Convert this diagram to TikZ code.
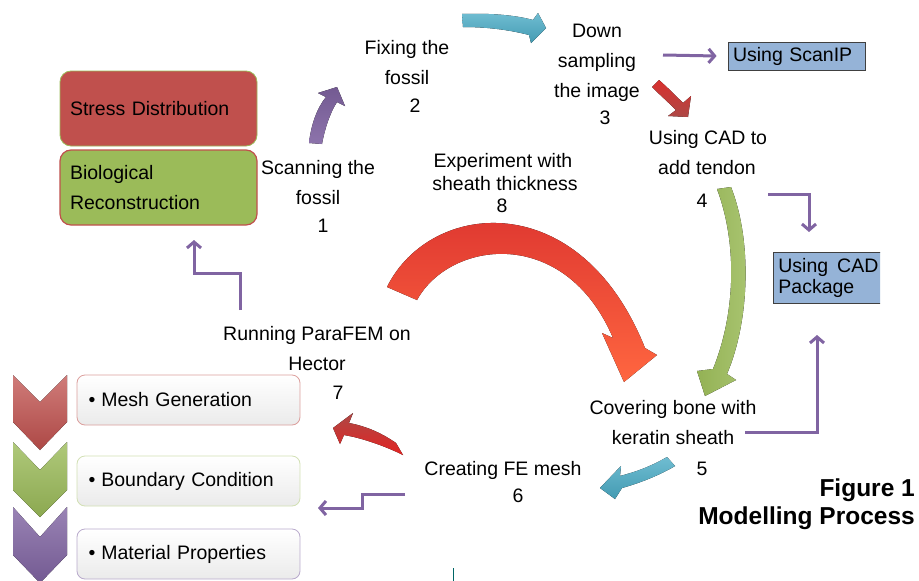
\documentclass[tikz,border=0pt]{standalone}
\usepackage{fontspec}
\setmainfont{Liberation Sans}
\usetikzlibrary{arrows.meta}
\definecolor{pur}{HTML}{8064A2}
\definecolor{redA}{HTML}{C0504D}
\definecolor{grnA}{HTML}{9BBB59}
\definecolor{bluA}{HTML}{95B3D7}
\definecolor{cyA}{HTML}{4BACC6}
\begin{document}
\begin{tikzpicture}[x=1pt,y=-1pt,
  lbl/.style={anchor=base, inner sep=0pt, font=\fontsize{19.5}{24}\selectfont},
  figt/.style={anchor=base east, inner sep=0pt, font=\fontsize{24.5}{28}\selectfont\bfseries},
  conn/.style={draw=pur, line width=3pt, -{Straight Barb[length=6pt,width=14pt]}},
  rbox/.style={rounded corners=11pt, minimum width=197pt, minimum height=75pt, inner xsep=10pt,
     text width=177pt, align=left, font=\fontsize{19.5}{30}\selectfont},
  sqbox/.style={draw=black!75, line width=0.8pt, fill=bluA, inner sep=0pt, align=left,
     font=\fontsize{19.5}{21}\selectfont},
  bbox/.style={rounded corners=8pt, minimum width=223pt, minimum height=50pt, line width=0.8pt,
     top color=white, bottom color=black!8, text width=200pt, inner xsep=11pt, align=left,
     font=\fontsize{19.5}{24}\selectfont}
]
\useasboundingbox (0,0) rectangle (919,581);
\fill[white] (0,0) rectangle (919,581);

% left boxes
\node[rbox, fill=redA, draw=grnA, line width=0.8pt] (stress) at (158.5,108.5) {Stress Distribution};
\node[rbox, fill=grnA, draw=redA, line width=1.2pt] (bio) at (158.5,187.5) {Biological\\Reconstruction};

% blue boxes
\node[sqbox, minimum width=137pt, minimum height=28pt, text width=127pt, inner xsep=5pt] (scanip) at (796.5,56) {Using ScanIP};
\begin{scope}
\clip (0,0) rectangle (880,581);
\node[sqbox, minimum width=125pt, minimum height=51pt, text width=115pt, inner xsep=5pt, anchor=west] (cad) at (773,277.5) {Using\hspace{9pt}CAD\\Package};
\end{scope}

% chevrons
\fill[top color=redA!75!white, bottom color=redA!90!black] (13,375) -- (40,402) -- (67,375) -- (67,422) -- (40,450) -- (13,422) -- cycle;
\fill[top color=grnA!80!white, bottom color=grnA!90!black] (13,442) -- (40,470) -- (67,442) -- (67,490) -- (40,517) -- (13,490) -- cycle;
\fill[top color=pur!80!white, bottom color=pur!90!black] (13,507) -- (40,537) -- (67,507) -- (67,555) -- (40,583) -- (13,555) -- cycle;

% bullet boxes
\node[bbox, draw=redA!55!white] (mesh) at (188.5,400) {\textbullet\hspace{6pt}Mesh Generation};
\node[bbox, draw=grnA!45!white] (bound) at (188.5,481) {\textbullet\hspace{6pt}Boundary Condition};
\node[bbox, draw=pur!55!white] (mat) at (188.5,554) {\textbullet\hspace{6pt}Material Properties};

% labels
\node[lbl] (l1a) at (318,174) {Scanning the};
\node[lbl] (l1b) at (318,204) {fossil};
\node[lbl] (l1c) at (323,232) {1};
\node[lbl] (l2a) at (407,54) {Fixing the};
\node[lbl] (l2b) at (407,84) {fossil};
\node[lbl] (l2c) at (415,112) {2};
\node[lbl] (l3a) at (597,37) {Down};
\node[lbl] (l3b) at (597,67) {sampling};
\node[lbl] (l3c) at (597,97) {the image};
\node[lbl] (l3d) at (605,124) {3};
\node[lbl] (l4a) at (708,144) {Using CAD to};
\node[lbl] (l4b) at (707,174) {add tendon};
\node[lbl] (l4c) at (702,207) {4};
\node[lbl] (l5a) at (673,414) {Covering bone with};
\node[lbl] (l5b) at (673,444) {keratin sheath};
\node[lbl] (l5c) at (702,475) {5};
\node[lbl] (l6a) at (503,475) {Creating FE mesh};
\node[lbl] (l6b) at (518,502) {6};
\node[lbl] (l7a) at (317,340) {Running ParaFEM on};
\node[lbl] (l7b) at (317,370) {Hector};
\node[lbl] (l7c) at (338,399) {7};
\node[lbl] (l8a) at (503,167) {Experiment with};
\node[lbl] (l8b) at (505,190) {sheath thickness};
\node[lbl] (l8c) at (502,212) {8};
\node[figt] (fig1) at (915,496) {Figure 1};
\node[figt] (fig2) at (915,524) {Modelling Process};

% block arrows
\fill[top color=pur!90!black, bottom color=pur!90!white]
  (309,143) .. controls (311,125) and (317,108) .. (326,97) -- (318,93) -- (337,87) -- (345,106) -- (337,102)
  .. controls (330,113) and (325,128) .. (322,144) -- cycle;
\fill[top color=cyA!80!white, bottom color=cyA!90!black]
  (462,14) .. controls (490,13) and (515,15) .. (533,20) -- (538,13) -- (546,28) -- (531,43) -- (529,35)
  .. controls (510,30) and (488,27) .. (463,27) -- cycle;
\fill[top color=red!40!redA, bottom color=redA!90!black]
  (652,87) -- (659,80) .. controls (667,87) and (675,95) .. (683,103) -- (691,96) -- (688,117) -- (668,116) -- (676,110)
  .. controls (668,102) and (660,95) .. (652,87) -- cycle;
\fill[left color=grnA!95!black, right color=grnA!85!white]
  (717,189) -- (731,187) .. controls (752,240) and (750,320) .. (727,374) -- (736,380) -- (705,396) -- (697,371) -- (713,369)
  .. controls (735,315) and (738,245) .. (717,189) -- cycle;
\fill[top color=cyA!80!white, bottom color=cyA!90!black]
  (667,457) .. controls (650,467) and (635,472) .. (620,476) -- (621,466) -- (600,488) -- (615,499) -- (622,488)
  .. controls (640,483) and (660,475) .. (675,466) -- cycle;
\fill[top color=redA!90!black, bottom color=red!55!redA]
  (396,443) .. controls (380,432) and (365,426) .. (349,423) -- (353,413) -- (333,428) -- (340,444) -- (344,435)
  .. controls (362,438) and (385,446) .. (403,455) -- cycle;
\fill[top color=red!40!redA, bottom color=orange!40!red!75!white]
  (387,287) .. controls (430,200) and (580,185) .. (645,348) -- (657,355) -- (624,382) -- (602,333) -- (613,338)
  .. controls (565,225) and (450,240) .. (417,300) -- cycle;

% purple connectors
\coordinate (c1s) at (663,55);
\draw[conn] (c1s) -- ([xshift=-11pt]scanip.west);
\coordinate (c2s) at (768,194);
\coordinate (c2e) at (809,232);
\draw[conn] (c2s) -| (c2e);
\coordinate (c3s) at (745,432);
\coordinate (c3e) at (817,335);
\draw[conn] (c3s) -| (c3e);
\coordinate (c4s) at (240,310);
\coordinate (c4m) at (217,273);
\coordinate (c4e) at (194,240);
\draw[conn] (c4s) |- (c4m) -| (c4e);
\coordinate (c5s) at (405,494);
\coordinate (c5m) at (362,501);
\coordinate (c5e) at (318,508);
\draw[conn] (c5s) -| (c5m) |- (c5e);

% small teal mark
\draw[draw=teal!80!black, line width=1pt] (453,568) -- (453,581);
\end{tikzpicture}
\end{document}
